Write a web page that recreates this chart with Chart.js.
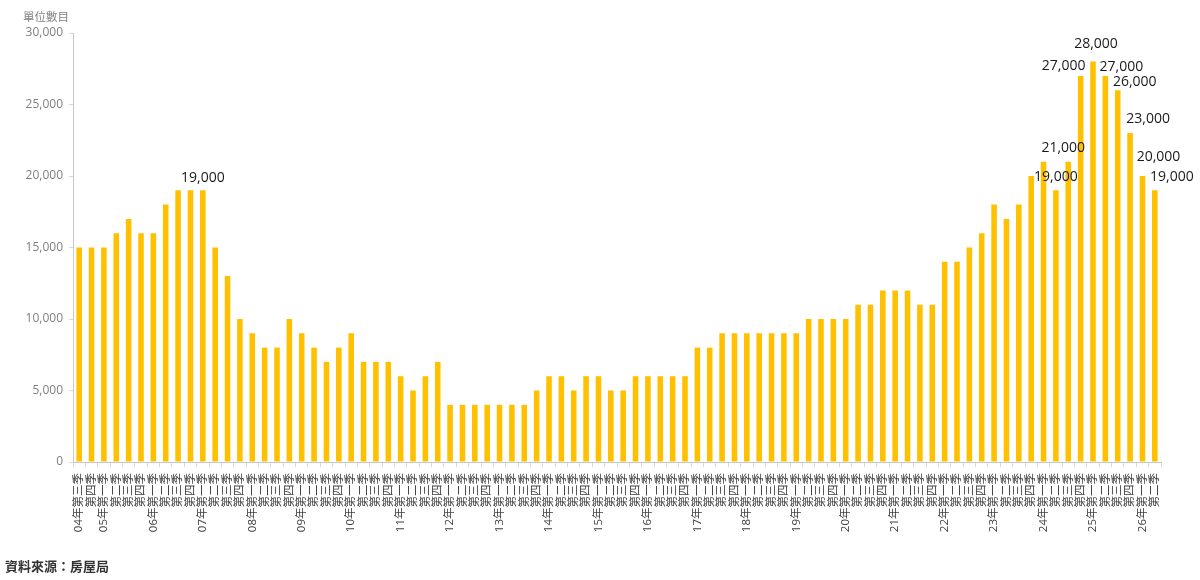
<!DOCTYPE html>
<html>
<head>
<meta charset="utf-8">
<script src="https://cdn.jsdelivr.net/npm/chart.js@4"></script>
<style>
  body { margin: 0; background: #fff; }
  #wrap { position: relative; width: 1200px; height: 580px; }
  #unit { position: absolute; left: 23px; top: 8px; font: 11.5px "Noto Sans CJK TC", sans-serif; color: #7f7f7f; }
  #source { position: absolute; left: 5px; top: 556px; font: bold 13px "Noto Sans CJK TC", sans-serif; color: #333; }
</style>
</head>
<body>
<div id="wrap">
  <canvas id="myChart" width="1200" height="580"></canvas>
  <div id="unit">單位數目</div>
  <div id="source">資料來源：房屋局</div>
</div>
<script>
// categories: 04年第三季 .. 26年第二季
const years = ['04','05','06','07','08','09','10','11','12','13','14','15','16','17','18','19','20','21','22','23','24','25','26'];
const quarters = ['第一季','第二季','第三季','第四季'];

// 單位數目
const units = [
  15000, 15000,                 // 04
  15000, 16000, 17000, 16000,   // 05
  16000, 18000, 19000, 19000,   // 06
  19000, 15000, 13000, 10000,   // 07
  9000, 8000, 8000, 10000,      // 08
  9000, 8000, 7000, 8000,       // 09
  9000, 7000, 7000, 7000,       // 10
  6000, 5000, 6000, 7000,       // 11
  4000, 4000, 4000, 4000,       // 12
  4000, 4000, 4000, 5000,       // 13
  6000, 6000, 5000, 6000,       // 14
  6000, 5000, 5000, 6000,       // 15
  6000, 6000, 6000, 6000,       // 16
  8000, 8000, 9000, 9000,       // 17
  9000, 9000, 9000, 9000,       // 18
  9000, 10000, 10000, 10000,    // 19
  10000, 11000, 11000, 12000,   // 20
  12000, 12000, 11000, 11000,   // 21
  14000, 14000, 15000, 16000,   // 22
  18000, 17000, 18000, 20000,   // 23
  21000, 19000, 21000, 27000,   // 24
  28000, 27000, 26000, 23000,   // 25
  20000, 19000                  // 26
];

// bars that carry a value label
const labelled = [10, 79, 80, 81, 82, 83, 84, 85, 86, 87];

let labels = [];
years.forEach(function(y, yi) {
  quarters.forEach(function(q, qi) {
    if (yi == 0 && qi < 2) return;
    if (yi == years.length - 1 && qi > 1) return;
    labels.push((qi == 0 || labels.length == 0) ? y + '年' + q : q);
  });
});

// label nudges [dx, dy] from the bar top, as in the original
const nudge = {10:[0,-12], 79:[0,-13], 80:[-5,-14], 81:[-17,-10], 82:[3,-18],
  83:[16,-9], 84:[17,-8], 85:[18,-14], 86:[16,-19], 87:[17,-13]};

const valueLabels = {
  id: 'valueLabels',
  afterDatasetsDraw(chart) {
    const ctx = chart.ctx;
    const meta = chart.getDatasetMeta(0);
    ctx.save();
    ctx.font = '500 14px "Open Sans", sans-serif';
    ctx.fillStyle = '#1a1a1a';
    ctx.textAlign = 'center';
    ctx.textBaseline = 'middle';
    labelled.forEach(function(i) {
      const bar = meta.data[i];
      const n = nudge[i] || [0, -13];
      ctx.fillText(units[i].toLocaleString('en-US'), bar.x + n[0], bar.y + n[1]);
    });
    ctx.restore();
  }
};

const font = '"Open Sans", "Noto Sans CJK TC", sans-serif';

const config = {
  type: 'bar',
  data: {
    labels: labels,
    datasets: [{
      label: '單位數目',
      data: units,
      backgroundColor: '#FFC000',
      barPercentage: 0.9,
      categoryPercentage: 0.5
    }]
  },
  options: {
    responsive: false,
    animation: false,
    layout: { padding: { top: 33, right: 39, left: 0, bottom: 0 } },
    plugins: { legend: { display: false }, tooltip: { enabled: false } },
    scales: {
      x: {
        afterFit: function(s) { s.height = 118; },
        grid: { display: true, drawOnChartArea: false, tickLength: 5, color: '#d9d9d9' },
        border: { color: '#c8c8c8' },
        ticks: {
          autoSkip: false, maxRotation: 90, minRotation: 90, padding: 6,
          color: '#404040', font: { family: font, size: 11.5 }
        }
      },
      y: {
        min: 0, max: 30000,
        afterFit: function(s) { s.width = 73; },
        grid: { display: true, drawOnChartArea: false, tickLength: 4, color: '#d9d9d9' },
        border: { color: '#c8c8c8' },
        ticks: {
          stepSize: 5000, padding: 6, color: '#7f7f7f',
          font: { family: font, size: 12 },
          callback: function(v) { return v.toLocaleString('en-US'); }
        }
      }
    }
  },
  plugins: [valueLabels]
};

myChart = new Chart(document.getElementById('myChart'), config);
</script>
</body>
</html>
